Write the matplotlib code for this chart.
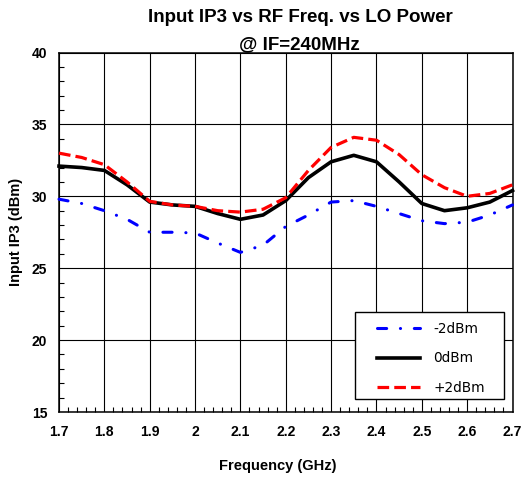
import matplotlib
matplotlib.use("Agg")
import matplotlib.pyplot as plt
from matplotlib.ticker import MultipleLocator
from matplotlib.patches import Rectangle

freq = [1.70, 1.75, 1.80, 1.85, 1.90, 1.95, 2.00, 2.05, 2.10, 2.15, 2.20,
        2.25, 2.30, 2.35, 2.40, 2.45, 2.50, 2.55, 2.60, 2.65, 2.70]
lo_m2 = [29.8, 29.5, 29.0, 28.4, 27.5, 27.5, 27.45, 26.75, 26.1, 26.6, 27.9,
         28.7, 29.6, 29.7, 29.3, 28.8, 28.3, 28.1, 28.2, 28.7, 29.4]
lo_0 = [32.1, 32.0, 31.8, 30.8, 29.6, 29.4, 29.3, 28.8, 28.4, 28.7, 29.7,
        31.3, 32.4, 32.85, 32.4, 31.0, 29.5, 29.0, 29.2, 29.6, 30.4]
lo_p2 = [33.0, 32.7, 32.2, 31.0, 29.65, 29.4, 29.3, 29.0, 28.9, 29.1, 29.9,
         31.8, 33.4, 34.1, 33.9, 32.9, 31.5, 30.6, 30.0, 30.2, 30.8]
labels = ["-2dBm", "0dBm", "+2dBm"]
xticks = [1.7, 1.8, 1.9, 2.0, 2.1, 2.2, 2.3, 2.4, 2.5, 2.6, 2.7]
xticklabels = ["1.7", "1.8", "1.9", "2", "2.1", "2.2", "2.3", "2.4", "2.5", "2.6", "2.7"]
yticks = [15, 20, 25, 30, 35, 40]

fig = plt.figure(figsize=(5.27, 4.78), dpi=100)
ax = fig.add_axes([59/527, 1-412/478, (512.5-59)/527, (412-52.5)/478])

ax.plot(freq, lo_m2, color="#0000ff", lw=2.2, dashes=(3.0, 4.5, 0.05, 4.5),
        dash_capstyle="round", label=labels[0], clip_on=False, zorder=3)
ax.plot(freq, lo_0, color="black", lw=2.6, label=labels[1], clip_on=False, zorder=3)
ax.plot(freq, lo_p2, color="#ff0000", lw=2.3, dashes=(3.65, 1.6),
        label=labels[2], clip_on=False, zorder=4)

ax.set_xlim(1.7, 2.7)
ax.set_ylim(15, 40)
ax.set_xticks(xticks)
ax.set_xticklabels(xticklabels)
ax.set_yticks(yticks)
ax.xaxis.set_minor_locator(MultipleLocator(0.02))
ax.yaxis.set_minor_locator(MultipleLocator(1))
ax.tick_params(which="major", length=0, labelsize=10)
ax.tick_params(axis="x", which="major", pad=9.5)
ax.tick_params(axis="y", which="major", pad=8.5)
ax.tick_params(which="minor", direction="in", length=3.5, width=0.8, color="black")
ax.tick_params(axis="x", which="minor", top=False)
ax.tick_params(axis="y", which="minor", right=False)
for lab in ax.get_xticklabels() + ax.get_yticklabels():
    lab.set_fontweight("bold")
    lab.set_family("Liberation Sans")
ax.grid(True, which="major", color="black", lw=0.8)
for s in ax.spines.values():
    s.set_linewidth(1.1)
    s.set_color("black")

fig.text(300/527, 1-17/478, "Input IP3 vs RF Freq. vs LO Power", ha="center", va="center",
         fontsize=13.5, fontweight="bold", family="Liberation Sans")
fig.text(299/527, 1-45/478, "@ IF=240MHz", ha="center", va="center",
         fontsize=13.5, fontweight="bold", family="Liberation Sans")
fig.text(278/527, 1-466/478, "Frequency (GHz)", ha="center", va="center",
         fontsize=10.5, fontweight="bold", family="Liberation Sans")
fig.text(16/527, 1-232/478, "Input IP3 (dBm)", ha="center", va="center", rotation=90,
         fontsize=10.5, fontweight="bold", family="Liberation Sans")

frame = Rectangle((0.653, 0.036), 0.328, 0.242, transform=ax.transAxes,
                  facecolor="white", edgecolor="black", lw=1.0, zorder=5)
ax.add_patch(frame)
leg = ax.legend(loc="upper left", bbox_to_anchor=(0.701, 0.251), frameon=False,
                prop={"family": "DejaVu Sans", "size": 9.8},
                handlelength=3.2, handletextpad=0.95, labelspacing=1.14,
                borderpad=0, borderaxespad=0)
leg.set_zorder(6)

fig.savefig("out.png", dpi=100)
